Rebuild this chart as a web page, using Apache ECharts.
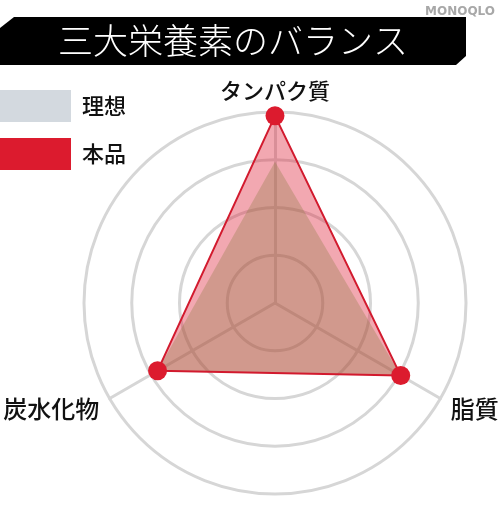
<!DOCTYPE html>
<html><head><meta charset="utf-8">
<script src="https://cdn.jsdelivr.net/npm/echarts@6/dist/echarts.min.js"></script>
<style>html,body{margin:0;padding:0;background:#fff}#c{width:500px;height:506px}</style>
</head><body><div id="c"></div>
<script>
const titleText = '三大栄養素のバランス';
const watermark = 'MONOQLO';
// order: top, bottom-left, bottom-right (radar runs counter-clockwise)
const indicatorNames = ['タンパク質', '炭水化物', '脂質'];
const maxValue = 100;
const idealName = '理想';
const productName = '本品';
const idealValues = [74, 71, 76];
const productValues = [98, 71, 76];

const FONT = '"Noto Sans CJK JP", "Noto Sans", sans-serif';
const chart = echarts.init(document.getElementById('c'));
chart.setOption({
  backgroundColor: '#fff',
  animation: false,
  graphic: [
    { type: 'polygon', shape: { points: [[0,28],[14,17],[466,17],[466,56],[456,65],[0,65]] }, style: { fill: '#000' }, z: 1 },
    { type: 'text', style: { x: 233, y: 41, text: titleText, fill: '#fff', font: '300 35px ' + FONT, textAlign: 'center', textVerticalAlign: 'middle' }, z: 2 },
    { type: 'text', style: { x: 495, y: 12, text: watermark, fill: '#a8a8a8', font: 'bold 12px "DejaVu Sans", sans-serif', textAlign: 'right', textVerticalAlign: 'middle' }, z: 2 }
  ],
  legend: {
    orient: 'vertical', left: 0, top: 90, padding: 0,
    itemWidth: 71, itemHeight: 32, itemGap: 16, icon: 'rect',
    textStyle: { fontSize: 22, color: '#111', fontFamily: FONT, fontWeight: 500, padding: [0,0,0,6] },
    data: [
      { name: idealName, itemStyle: { color: '#d3d9df', borderWidth: 0 } },
      { name: productName, itemStyle: { color: '#dc1b2e', borderWidth: 0 } }
    ],
    selectedMode: false
  },
  radar: {
    center: [275, 303], radius: 191, startAngle: 90, shape: 'circle', splitNumber: 4,
    indicator: indicatorNames.map(n => ({ name: n, max: maxValue, min: 0 })),
    nameGap: 12,
    axisName: {
      color: '#111', fontSize: 23, fontFamily: FONT, fontWeight: 500,
      formatter: (n) => n === indicatorNames[0] ? '{t|' + n + '}' : '{b|' + n + '}',
      rich: {
        t: { fontSize: 22, fontFamily: FONT, fontWeight: 500, color: '#111', padding: [0, 0, -2, 0] },
        b: { fontSize: 24, fontFamily: FONT, fontWeight: 500, color: '#111', padding: [9, 0, 0, 0] }
      }
    },
    splitLine: { lineStyle: { color: '#d6d6d6', width: 3 } },
    splitArea: { show: false },
    axisLine: { lineStyle: { color: '#d6d6d6', width: 3 } }
  },
  series: [
    { type: 'radar', name: productName, z: 2, symbol: 'none', silent: true,
      lineStyle: { width: 0, opacity: 0 },
      areaStyle: { color: 'rgba(222,28,52,0.55)' },
      itemStyle: { color: '#dc1b2e' },
      data: [{ value: productValues, name: productName }] },
    { type: 'radar', name: idealName, z: 3, symbol: 'none', silent: true,
      lineStyle: { width: 0, opacity: 0 },
      areaStyle: { color: 'rgba(130,118,55,0.42)' },
      itemStyle: { color: '#d3d9df' },
      data: [{ value: idealValues, name: idealName }] },
    { type: 'radar', name: productName, z: 4, symbol: 'circle', symbolSize: 19, silent: true,
      lineStyle: { width: 2, color: '#d21a2e' },
      itemStyle: { color: '#dc1b2e', borderWidth: 0 },
      data: [{ value: productValues, name: productName }] }
  ]
});
</script></body></html>
